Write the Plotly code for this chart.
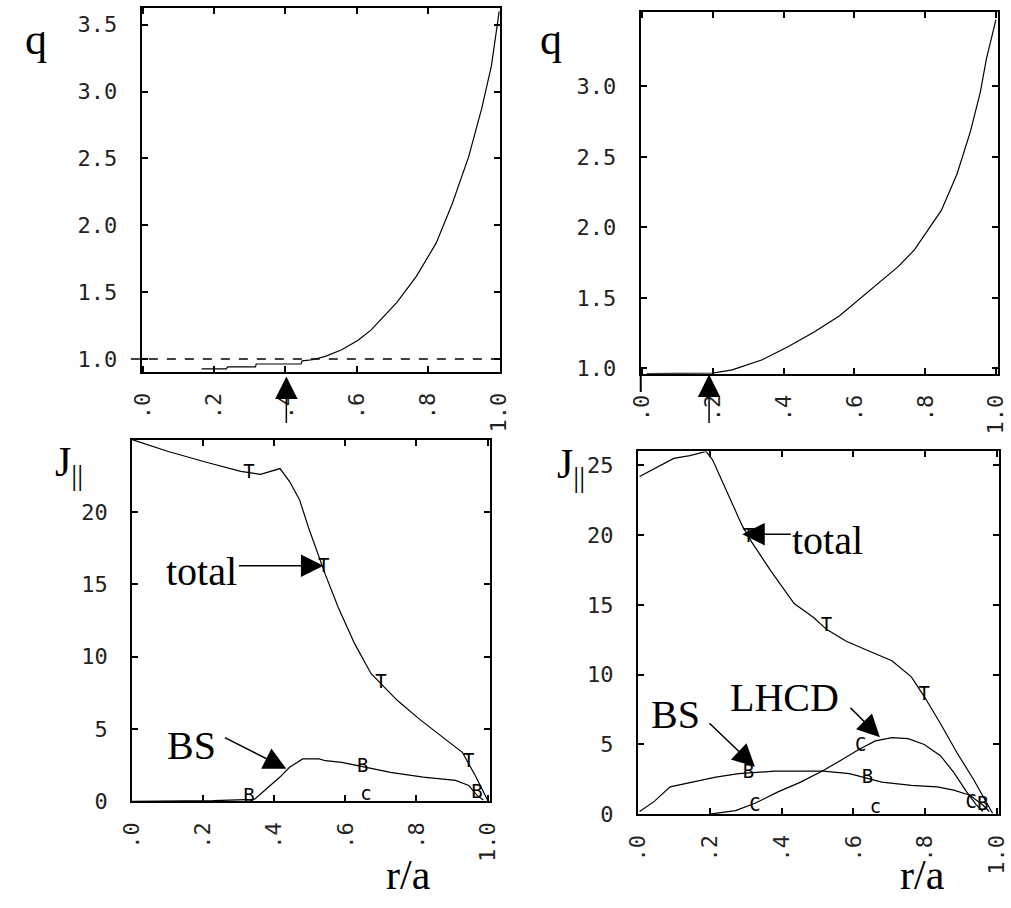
import plotly.graph_objects as go

W, H = 1011, 908

# ---- safety factor q(r/a), left case (sawtooth-flattened core)
q_left_r = [0.165, 0.234, 0.238, 0.316, 0.318, 0.444, 0.447, 0.476, 0.512, 0.558, 0.604,
            0.640, 0.713, 0.768, 0.823, 0.868, 0.914, 0.951, 0.978, 0.996, 1.0]
q_left_v = [0.926, 0.926, 0.941, 0.941, 0.963, 0.963, 0.987, 0.995, 1.02, 1.07, 1.14,
            1.216, 1.424, 1.62, 1.867, 2.16, 2.51, 2.874, 3.19, 3.5, 3.6]

# ---- safety factor q(r/a), right case (LHCD)
q_right_r = [0.014, 0.127, 0.20, 0.255, 0.338, 0.411, 0.485, 0.558, 0.613, 0.678, 0.724,
             0.769, 0.806, 0.845, 0.889, 0.927, 0.955, 0.972, 0.990, 0.999]
q_right_v = [0.962, 0.962, 0.965, 0.988, 1.058, 1.151, 1.256, 1.373, 1.49, 1.63, 1.723,
             1.84, 1.98, 2.12, 2.377, 2.68, 2.96, 3.194, 3.38, 3.474]

# ---- current density, left case
jt_left_r = [0.0, 0.104, 0.214, 0.306, 0.361, 0.416, 0.443, 0.471, 0.498, 0.525, 0.544,
             0.58, 0.626, 0.672, 0.745, 0.81, 0.883, 0.929, 0.965, 0.988, 1.0]
jt_left_v = [25.0, 24.16, 23.4, 22.8, 22.6, 23.0, 22.1, 20.85, 18.8, 17.0, 15.65,
             13.4, 10.9, 8.84, 7.0, 5.65, 4.3, 3.39, 1.8, 0.66, 0.1]
bs_left_r = [0.0, 0.228, 0.343, 0.347, 0.379, 0.416, 0.443, 0.48, 0.526, 0.544, 0.59,
             0.654, 0.727, 0.819, 0.91, 0.947, 0.97, 0.988]
bs_left_v = [0.0, 0.05, 0.14, 0.2, 0.89, 1.68, 2.36, 2.93, 2.93, 2.81, 2.7,
             2.36, 2.0, 1.67, 1.45, 1.1, 0.43, 0.1]

# ---- current density, right case
jt_right_r = [0.005, 0.054, 0.1, 0.145, 0.19, 0.208, 0.245, 0.29, 0.317, 0.371, 0.435,
              0.489, 0.525, 0.58, 0.643, 0.707, 0.761, 0.797, 0.842, 0.888, 0.933,
              0.969, 0.987]
jt_right_v = [24.2, 24.9, 25.5, 25.7, 26.0, 25.4, 23.3, 20.7, 19.5, 17.4, 15.1,
              14.1, 13.25, 12.4, 11.7, 11.0, 9.84, 8.43, 6.5, 4.4, 2.54,
              0.9, 0.07]
bs_right_r = [0.005, 0.045, 0.09, 0.154, 0.217, 0.281, 0.38, 0.516, 0.589, 0.679, 0.761,
              0.833, 0.879, 0.924, 0.96, 0.978]
bs_right_v = [0.19, 0.9, 1.96, 2.3, 2.66, 2.9, 3.08, 3.08, 2.9, 2.3, 2.07,
              1.96, 1.72, 1.36, 0.66, 0.19]
lh_right_r = [0.2, 0.272, 0.326, 0.39, 0.453, 0.516, 0.571, 0.616, 0.661, 0.707, 0.752,
              0.797, 0.842, 0.879, 0.915, 0.942, 0.96]
lh_right_v = [0.0, 0.26, 0.78, 1.6, 2.3, 3.13, 3.95, 4.66, 5.25, 5.49, 5.42,
              5.0, 4.19, 3.0, 1.6, 0.66, 0.19]

# ---- curve identification letters
mk_left_r = [0.329, 0.539, 0.70, 0.947, 0.329, 0.649, 0.97, 0.658]
mk_left_v = [22.7, 16.2, 8.15, 2.7, 0.3, 2.36, 0.55, 0.43]
mk_left_t = ["T", "T", "T", "T", "B", "B", "B", "c"]
mk_right_r = [0.308, 0.525, 0.797, 0.308, 0.639, 0.96, 0.326, 0.62, 0.928, 0.661]
mk_right_v = [19.84, 13.5, 8.5, 2.9, 2.54, 0.66, 0.6, 4.9, 0.78, 0.42]
mk_right_t = ["T", "T", "T", "B", "B", "B", "C", "C", "C", "c"]

# axis ticks
r_ticks = [0, 0.2, 0.4, 0.6, 0.8, 1.0]
r_labels = [".0", ".2", ".4", ".6", ".8", "1.0"]
q_ticks = [1.0, 1.5, 2.0, 2.5, 3.0, 3.5]
q_labels = ["1.0", "1.5", "2.0", "2.5", "3.0", "3.5"]
j_ticks = [0, 5, 10, 15, 20, 25]
j_labels = ["0", "5", "10", "15", "20", "25"]


def px(x):
    return x / W


def py(y):
    return 1 - y / H


fig = go.Figure()

LINE = dict(color="black", width=1.2)
fig.add_trace(go.Scatter(x=q_left_r, y=q_left_v, mode="lines", line=LINE, xaxis="x", yaxis="y"))
fig.add_trace(go.Scatter(x=q_right_r, y=q_right_v, mode="lines", line=LINE, xaxis="x2", yaxis="y2"))
fig.add_trace(go.Scatter(x=jt_left_r, y=jt_left_v, mode="lines", line=LINE, xaxis="x3", yaxis="y3"))
fig.add_trace(go.Scatter(x=bs_left_r, y=bs_left_v, mode="lines", line=LINE, xaxis="x3", yaxis="y3"))
fig.add_trace(go.Scatter(x=jt_right_r, y=jt_right_v, mode="lines", line=LINE, xaxis="x4", yaxis="y4"))
fig.add_trace(go.Scatter(x=bs_right_r, y=bs_right_v, mode="lines", line=LINE, xaxis="x4", yaxis="y4"))
fig.add_trace(go.Scatter(x=lh_right_r, y=lh_right_v, mode="lines", line=LINE, xaxis="x4", yaxis="y4"))

MKFONT = dict(family="DejaVu Sans Mono", size=19, color="black")
fig.add_trace(go.Scatter(x=mk_left_r, y=mk_left_v, mode="text", text=mk_left_t,
                         textfont=MKFONT, xaxis="x3", yaxis="y3"))
fig.add_trace(go.Scatter(x=mk_right_r, y=mk_right_v, mode="text", text=mk_right_t,
                         textfont=MKFONT, xaxis="x4", yaxis="y4"))

TICKFONT = dict(family="DejaVu Sans Mono", size=22, color="#222")


def xaxis(domain, rng, anchor):
    return dict(domain=domain, range=rng, anchor=anchor, showgrid=False, zeroline=False,
                showline=True, linecolor="black", linewidth=2, mirror="allticks",
                ticks="inside", ticklen=6, tickwidth=1.5, tickcolor="black",
                tickvals=r_ticks, ticktext=r_labels, tickangle=-90,
                tickfont=TICKFONT, ticklabelstandoff=10)


def yaxis(domain, rng, anchor, vals, labels):
    return dict(domain=domain, range=rng, anchor=anchor, showgrid=False, zeroline=False,
                showline=True, linecolor="black", linewidth=2, mirror="allticks",
                ticks="inside", ticklen=6, tickwidth=1.5, tickcolor="black",
                tickvals=vals, ticktext=labels, tickfont=TICKFONT, ticklabelstandoff=18)


fig.update_layout(
    width=W, height=H, margin=dict(l=0, r=0, t=0, b=0),
    paper_bgcolor="white", plot_bgcolor="white", showlegend=False,
    xaxis=xaxis([px(131.7), px(499)], [-0.0036, 1.0027], "y"),
    yaxis=yaxis([py(377.3), py(8)], [0.904, 3.626], "x", q_ticks, q_labels),
    xaxis2=xaxis([px(643), px(1009)], [-0.003, 1.005], "y2"),
    yaxis2=yaxis([py(379.3), py(12)], [0.96, 3.53], "x2", q_ticks[:5], q_labels[:5]),
    xaxis3=xaxis([px(122), px(489)], [0.0, 1.008], "y3"),
    yaxis3=yaxis([py(813), py(446)], [0.0, 25.0], "x3", j_ticks[:5], j_labels[:5]),
    xaxis4=xaxis([px(640), px(1010)], [0.0, 1.005], "y4"),
    yaxis4=yaxis([py(826), py(458)], [0.0, 26.0], "x4", j_ticks, j_labels),
)

# q = 1 reference line in the left q panel
fig.add_shape(type="line", xref="x domain", yref="y", x0=-0.03, x1=1.0, y0=1.0, y1=1.0,
              line=dict(color="black", width=1.5, dash="dash"))
# left spine of the right q panel runs below the frame
fig.add_shape(type="line", xref="x2 domain", yref="y2 domain", x0=0, x1=0, y0=0, y1=-0.05,
              line=dict(color="black", width=2))

SERIF = dict(family="Liberation Serif", size=40, color="black")


def label(text, x, y, xanchor="center", size=40):
    f = dict(SERIF)
    f["size"] = size
    fig.add_annotation(text=text, x=px(x), y=py(y), xref="paper", yref="paper",
                       xanchor=xanchor, yanchor="middle", showarrow=False, font=f)


def arrow(tail, tip):
    fig.add_annotation(text="", x=px(tip[0]), y=py(tip[1]), xref="paper", yref="paper",
                       ax=tail[0] - tip[0], ay=tail[1] - tip[1], showarrow=True,
                       arrowhead=2, arrowsize=3, arrowwidth=1.5, arrowcolor="black",
                       standoff=0)


label("q", 23.5, 40, size=44)
label("q", 551.5, 40, size=44)
label("J<sub>||</sub>", 41, 472, xanchor="left", size=42)
label("J<sub>||</sub>", 555, 474, xanchor="left", size=42)
label("r/a", 405, 888, size=42)
label("r/a", 932, 888, size=42)
label("total", 231, 580, xanchor="right")
label("BS", 156, 756, xanchor="left")
label("total", 796, 548, xanchor="left")
label("BS", 651, 725, xanchor="left")
label("LHCD", 732, 708, xanchor="left")

arrow((280, 430), (280, 382))
arrow((713, 430), (713, 380))
arrow((232, 574), (318, 574))
arrow((217, 748), (280, 780))
arrow((797, 542), (747, 542))
arrow((713, 733), (760, 778))
arrow((857, 717), (888, 748))

fig.write_html("out.html")
